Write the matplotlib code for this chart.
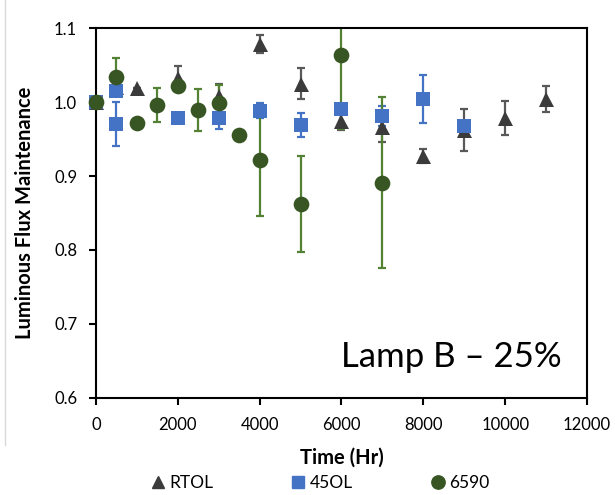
import matplotlib
matplotlib.use('Agg')
import matplotlib.pyplot as plt
from matplotlib.lines import Line2D

plt.rcParams['font.family'] = ['Lato', 'DejaVu Sans']

# RTOL series
rtol_x = [0, 500, 1000, 2000, 3000, 4000, 5000, 6000, 7000, 8000, 9000, 10000, 11000]
rtol_y = [1.0, 1.02, 1.019, 1.032, 1.008, 1.078, 1.025, 0.975, 0.966, 0.927, 0.962, 0.978, 1.004]
rtol_err = [0, 0, 0, 0.016, 0.017, 0.012, 0.021, 0.013, 0.02, 0.01, 0.028, 0.023, 0.018]

# 45OL series
ol45_x = [0, 500, 500, 2000, 3000, 4000, 5000, 6000, 7000, 8000, 9000]
ol45_y = [1.0, 1.015, 0.970, 0.979, 0.979, 0.988, 0.969, 0.991, 0.981, 1.004, 0.968]
ol45_err = [0, 0, 0.03, 0, 0.015, 0.01, 0.016, 0, 0.014, 0.032, 0]

# 6590 series
s6590_x = [0, 500, 1000, 1500, 2000, 2500, 3000, 3500, 4000, 5000, 6000, 7000]
s6590_y = [1.0, 1.034, 0.971, 0.996, 1.021, 0.989, 0.998, 0.956, 0.921, 0.862, 1.064, 0.891]
s6590_err = [0, 0.025, 0, 0.023, 0, 0.028, 0.025, 0, 0.075, 0.065, 0.1, 0.116]

series = [
    ('RTOL', rtol_x, rtol_y, rtol_err, '^', '#3b3b3b', '#595959', 10.8),
    ('45OL', ol45_x, ol45_y, ol45_err, 's', '#4472C4', '#4472C4', 9.6),
    ('6590', s6590_x, s6590_y, s6590_err, 'o', '#375623', '#548235', 11.3),
]

fig = plt.figure(figsize=(6.15, 4.95), dpi=100)
ax = fig.add_axes([0.156, 0.196, 0.7985, 0.7474])

# error bars first, then markers on top (like Excel)
for name, x, y, e, m, c, ec, ms in series:
    ax.errorbar(x, y, yerr=e, fmt='none', ecolor=ec, elinewidth=1.6,
                capsize=2.6, capthick=1.6, zorder=2)
for name, x, y, e, m, c, ec, ms in series:
    ax.plot(x, y, linestyle='none', marker=m, markersize=ms, color=c,
            markeredgewidth=0, zorder=3, clip_on=False)

ax.set_xlim(0, 12000)
ax.set_ylim(0.6, 1.1)
ax.set_xticks(range(0, 12001, 2000))
ax.set_yticks([0.6, 0.7, 0.8, 0.9, 1.0, 1.1])
ax.set_yticklabels(['0.6', '0.7', '0.8', '0.9', '1.0', '1.1'])
ax.tick_params(axis='both', labelsize=12, length=5, width=1.5, direction='out', pad=8.5)
for s in ax.spines.values():
    s.set_linewidth(1.5)
    s.set_color('black')

ax.set_ylabel('Luminous Flux Maintenance', fontsize=14.5, fontweight='bold', labelpad=14)
ax.set_xlabel('Time (Hr)', fontsize=14.5, fontweight='bold', labelpad=11)

ax.text(0.949, 0.084, 'Lamp B – 25%', transform=ax.transAxes, fontsize=25,
        ha='right', va='baseline')

handles = [Line2D([], [], linestyle='none', marker=m, markersize=ms * 0.85, color=c)
           for name, x, y, e, m, c, ec, ms in series]
labels = [s[0] for s in series]
fig.legend(handles, labels, loc='center', bbox_to_anchor=(320 / 615, 1 - 483 / 495),
           ncol=3, frameon=False, fontsize=12.5, handlelength=0.8, handletextpad=0.25,
           columnspacing=4.5)

# faint chart-area border on the left
fig.add_artist(Line2D([5 / 615, 5 / 615], [1 - 445 / 495, 1], color='#d9d9d9', lw=1))

fig.savefig('out.png', dpi=100)
